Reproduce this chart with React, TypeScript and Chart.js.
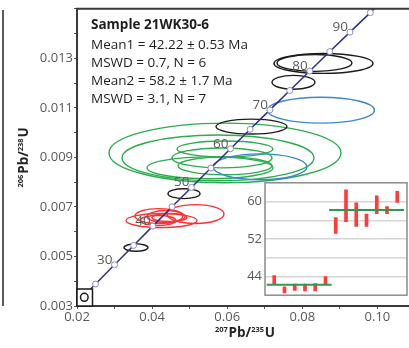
import React, { useEffect, useRef } from 'react';
import { Chart, registerables } from 'chart.js';

Chart.register(...registerables);

const FONT = '"Open Sans", sans-serif';

// ---- Concordia (ages in Ma, 207Pb/235U and 206Pb/238U ratios) ----
const concAges = [20, 25, 30, 35, 40, 45, 50, 55, 60, 65, 70, 75, 80, 85, 90, 95, 100];
const concX = [0.019892, 0.024927, 0.029986, 0.035071, 0.04018, 0.045315, 0.050475, 0.055661, 0.060872, 0.066109, 0.071371, 0.07666, 0.081975, 0.087316, 0.092683, 0.098107, 0.103498];
const concY = [0.0031073, 0.0038857, 0.0046646, 0.0054441, 0.0062243, 0.0070051, 0.0077864, 0.0085684, 0.009351, 0.0101341, 0.0109179, 0.0117023, 0.0124873, 0.0132729, 0.0140592, 0.014846, 0.0156334];
const labeledAges = [30, 40, 50, 60, 70, 80, 90];

// ---- Error ellipses: [207/235 centre, 206/238 centre, half-width x, half-width y] ----
const greenEllipses = [
  [0.0594, 0.009181, 0.03088, 0.001204],
  [0.05754, 0.00898, 0.02556, 0.000923],
  [0.05541, 0.008579, 0.01677, 0.000441],
  [0.0586, 0.00898, 0.01331, 0.000401],
  [0.0594, 0.008659, 0.01251, 0.000361],
  [0.0594, 0.009341, 0.01278, 0.000321],
];
const redEllipses = [
  [0.05155, 0.006712, 0.00759, 0.000381],
  [0.0425, 0.006451, 0.00945, 0.000281],
  [0.04183, 0.006632, 0.00639, 0.000301],
  [0.0437, 0.006612, 0.00506, 0.000241],
  [0.04157, 0.006451, 0.00479, 0.000201],
  [0.0446, 0.006572, 0.00466, 0.00016],
];
const blueEllipses = [
  [0.08496, 0.010906, 0.01424, 0.000522],
  [0.06872, 0.008619, 0.01251, 0.000522],
];
const blackEllipses = [
  [0.06646, 0.010244, 0.00945, 0.000301],
  [0.08563, 0.012793, 0.01318, 0.000401],
  [0.08323, 0.012813, 0.00998, 0.000341],
  [0.07764, 0.01203, 0.00572, 0.000281],
  [0.04849, 0.007535, 0.00426, 0.000201],
  [0.03571, 0.005358, 0.0032, 0.00015],
];

// ---- Annotation text ----
const sampleTitle = 'Sample 21WK30-6';
const statLines = ['Mean1 = 42.22 ± 0.53 Ma', 'MSWD = 0.7, N = 6', 'Mean2 = 58.2 ± 1.7 Ma', 'MSWD = 3.1, N = 7'];

// ---- Inset: weighted-mean age plot ----
const spotIndex = [1, 2, 3, 4, 5, 6, 7, 8, 9, 10, 11, 12, 13];
const spotLow = [42.3, 40.5, 41.0, 40.9, 40.9, 42.2, 53.2, 55.7, 54.7, 54.7, 57.4, 57.4, 59.8];
const spotHigh = [44.2, 41.8, 42.4, 42.4, 42.5, 44.0, 56.6, 62.5, 59.7, 57.3, 61.2, 58.9, 62.2];
const mean1 = 42.22;
const mean2 = 58.2;
const mean1Span = [0.27, 6.6];
const mean2Span = [6.35, 13.67];
const insetTickLabels = [44, 52, 60];

type Part = { t: string; sup?: boolean };
const xTitle: Part[] = [{ t: '207', sup: true }, { t: 'Pb/' }, { t: '235', sup: true }, { t: 'U' }];
const yTitle: Part[] = [{ t: '206', sup: true }, { t: 'Pb/' }, { t: '238', sup: true }, { t: 'U' }];

function drawIsoTitle(ctx: CanvasRenderingContext2D, parts: Part[], cx: number, cy: number, rotate: boolean) {
  const big = `bold 13.5px ${FONT}`;
  const small = `bold 7.5px ${FONT}`;
  ctx.save();
  ctx.translate(cx, cy);
  if (rotate) ctx.rotate(-Math.PI / 2);
  ctx.fillStyle = '#262626';
  ctx.textBaseline = 'alphabetic';
  ctx.textAlign = 'left';
  const widths = parts.map((p) => {
    ctx.font = p.sup ? small : big;
    return ctx.measureText(p.t).width + (p.sup ? 0.8 : 0);
  });
  const total = widths.reduce((a, b) => a + b, 0);
  let xx = -total / 2;
  const base = 4.8;
  parts.forEach((p, i) => {
    ctx.font = p.sup ? small : big;
    ctx.fillText(p.t, xx, p.sup ? base - 4.6 : base);
    xx += widths[i];
  });
  ctx.restore();
}

const mainDecor = {
  id: 'mainDecor',
  beforeDatasetsDraw(chart: any) {
    const { ctx, chartArea, scales } = chart;
    const xs = scales.x;
    const ys = scales.y;
    ctx.save();
    ctx.beginPath();
    ctx.rect(chartArea.left, chartArea.top, chartArea.right - chartArea.left, chartArea.bottom - chartArea.top);
    ctx.clip();
    const groups: [number[][], string][] = [
      [greenEllipses, '#2bae4e'],
      [redEllipses, '#ff3030'],
      [blueEllipses, '#3c87cf'],
      [blackEllipses, '#1c1c1c'],
    ];
    ctx.lineWidth = 1.4;
    for (const [items, color] of groups) {
      ctx.strokeStyle = color;
      for (const [cx, cy, sx, sy] of items) {
        const px = xs.getPixelForValue(cx);
        const py = ys.getPixelForValue(cy);
        const rx = Math.abs(xs.getPixelForValue(cx + sx) - px);
        const ry = Math.abs(ys.getPixelForValue(cy + sy) - py);
        ctx.beginPath();
        ctx.ellipse(px, py, rx, ry, 0, 0, Math.PI * 2);
        ctx.stroke();
      }
    }
    ctx.restore();
  },
  afterDatasetsDraw(chart: any) {
    const { ctx, chartArea, scales } = chart;
    const xs = scales.x;
    const ys = scales.y;
    ctx.save();
    // age labels on concordia
    ctx.font = `13.5px ${FONT}`;
    ctx.fillStyle = '#5c5c5c';
    ctx.textAlign = 'right';
    ctx.textBaseline = 'middle';
    labeledAges.forEach((a) => {
      const i = concAges.indexOf(a);
      const px = xs.getPixelForValue(concX[i]);
      const py = ys.getPixelForValue(concY[i]);
      ctx.fillText(String(a), px - 2, py - 5);
    });
    // sample text block
    ctx.textAlign = 'left';
    ctx.fillStyle = '#1e1e1e';
    ctx.font = `bold 13.5px ${FONT}`;
    ctx.fillText(sampleTitle, 91, 25);
    ctx.font = `13.5px ${FONT}`;
    const ys2 = [45, 63, 81, 99];
    statLines.forEach((s, i) => ctx.fillText(s, 91, ys2[i]));
    // top frame line
    ctx.strokeStyle = '#3a3a3a';
    ctx.lineWidth = 2;
    ctx.beginPath();
    ctx.moveTo(chartArea.left - 1, chartArea.top);
    ctx.lineTo(chartArea.right, chartArea.top);
    ctx.stroke();
    // small legend box with circle at origin corner
    ctx.fillStyle = '#ffffff';
    ctx.fillRect(chartArea.left, chartArea.bottom - 17, 15.5, 17);
    ctx.strokeStyle = '#1a1a1a';
    ctx.lineWidth = 1.5;
    ctx.strokeRect(chartArea.left, chartArea.bottom - 17, 15.5, 17);
    ctx.beginPath();
    ctx.ellipse(chartArea.left + 7.3, chartArea.bottom - 8.7, 3.8, 4, 0, 0, Math.PI * 2);
    ctx.stroke();
    // neighbouring panel edge
    ctx.strokeStyle = '#5a5a5a';
    ctx.lineWidth = 2;
    ctx.beginPath();
    ctx.moveTo(3, 10);
    ctx.lineTo(3, chartArea.bottom);
    ctx.stroke();
    ctx.restore();
  },
  afterDraw(chart: any) {
    const { ctx, chartArea } = chart;
    drawIsoTitle(ctx, xTitle, 245, 332, false);
    drawIsoTitle(ctx, yTitle, 23, (chartArea.top + chartArea.bottom) / 2, true);
  },
};

const insetFrame = {
  id: 'insetFrame',
  beforeDraw(chart: any) {
    const { ctx, chartArea } = chart;
    ctx.save();
    ctx.fillStyle = '#ffffff';
    ctx.fillRect(chartArea.left, chartArea.top, chartArea.right - chartArea.left, chartArea.bottom - chartArea.top);
    ctx.restore();
  },
  afterDraw(chart: any) {
    const { ctx, chartArea } = chart;
    ctx.save();
    ctx.strokeStyle = '#8c8c8c';
    ctx.lineWidth = 1.5;
    ctx.strokeRect(chartArea.left, chartArea.top, chartArea.right - chartArea.left, chartArea.bottom - chartArea.top);
    ctx.restore();
  },
};

export default function App() {
  const mainRef = useRef<HTMLCanvasElement>(null);
  const insetRef = useRef<HTMLCanvasElement>(null);

  useEffect(() => {
    Chart.defaults.font.family = FONT;
    const concData = concX.map((x, i) => ({ x, y: concY[i] }));
    const main = new Chart(mainRef.current as HTMLCanvasElement, {
      type: 'scatter',
      data: {
        datasets: [
          {
            data: concData,
            showLine: true,
            borderColor: '#2b2e8a',
            borderWidth: 1.5,
            tension: 0,
            clip: 0,
            pointRadius: concAges.map((a) => (a >= 25 && a <= 95 ? 3 : 0)),
            pointBackgroundColor: '#ffffff',
            pointBorderColor: '#8a8cc4',
            pointBorderWidth: 1,
          } as any,
        ],
      },
      options: {
        responsive: false,
        animation: false,
        devicePixelRatio: 1,
        events: [],
        layout: { padding: { top: 7, left: 0, right: 0, bottom: 0 } },
        plugins: { legend: { display: false }, tooltip: { enabled: false } },
        scales: {
          x: {
            type: 'linear',
            min: 0.02,
            max: 0.11,
            afterFit: (s: any) => {
              s.height = 42;
            },
            ticks: {
              stepSize: 0.01,
              autoSkip: false,
              maxRotation: 0,
              padding: 0,
              color: '#595959',
              font: { family: FONT, size: 13 },
              callback: (v: any) => (Math.round(Number(v) * 100) % 2 === 0 ? Number(v).toFixed(2) : ''),
            },
            grid: { drawOnChartArea: false, drawTicks: true, tickLength: 3, color: '#555555', lineWidth: 1 },
            border: { display: true, color: '#3a3a3a', width: 2 },
          },
          y: {
            type: 'linear',
            min: 0.003,
            max: 0.015,
            afterFit: (s: any) => {
              s.width = 77;
            },
            ticks: {
              stepSize: 0.001,
              autoSkip: false,
              padding: 1,
              color: '#595959',
              font: { family: FONT, size: 13 },
              callback: (v: any) => {
                const k = Math.round(Number(v) * 1000);
                return k % 2 === 1 && k <= 13 ? Number(v).toFixed(3) : '';
              },
            },
            grid: { drawOnChartArea: false, drawTicks: true, tickLength: 3, color: '#555555', lineWidth: 1 },
            border: { display: true, color: '#3a3a3a', width: 2 },
          },
        },
      } as any,
      plugins: [mainDecor],
    });

    const inset = new Chart(insetRef.current as HTMLCanvasElement, {
      type: 'bar',
      data: {
        datasets: [
          {
            type: 'line',
            data: [
              { x: mean1Span[0], y: mean1 },
              { x: mean1Span[1], y: mean1 },
            ],
            borderColor: '#2f9a4c',
            borderWidth: 2,
            pointRadius: 0,
          },
          {
            type: 'line',
            data: [
              { x: mean2Span[0], y: mean2 },
              { x: mean2Span[1], y: mean2 },
            ],
            borderColor: '#2f9a4c',
            borderWidth: 2,
            pointRadius: 0,
          },
          {
            type: 'bar',
            data: spotIndex.map((i, k) => ({ x: i, y: [spotLow[k], spotHigh[k]] })),
            backgroundColor: '#ff3b3b',
            borderWidth: 0,
            barThickness: 3,
          },
        ] as any,
      },
      options: {
        responsive: false,
        animation: false,
        devicePixelRatio: 1,
        events: [],
        layout: { padding: { top: 8, right: 6, bottom: 6, left: 0 } },
        plugins: { legend: { display: false }, tooltip: { enabled: false } },
        scales: {
          x: { type: 'linear', min: 0.1, max: 13.95, display: false, offset: false },
          y: {
            min: 40,
            max: 64,
            afterFit: (s: any) => {
              s.width = 27;
            },
            ticks: {
              stepSize: 4,
              padding: 3,
              color: '#595959',
              font: { family: FONT, size: 13 },
              callback: (v: any) => (insetTickLabels.includes(Number(v)) ? String(v) : ''),
            },
            grid: {
              drawTicks: false,
              lineWidth: 1.5,
              color: (c: any) => (c.tick && (c.tick.value === 40 || c.tick.value === 64) ? 'rgba(0,0,0,0)' : '#d6d6d6'),
            },
            border: { display: false },
          },
        },
      } as any,
      plugins: [insetFrame],
    });

    return () => {
      main.destroy();
      inset.destroy();
    };
  }, []);

  return (
    <div
      style={{
        position: 'fixed',
        left: 0,
        top: 0,
        width: 409,
        height: 348,
        overflow: 'hidden',
        background: '#ffffff',
      }}
    >
      <canvas ref={mainRef} width={415} height={348} style={{ position: 'absolute', left: 0, top: 0, width: 415, height: 348 }} />
      <canvas ref={insetRef} width={175} height={134} style={{ position: 'absolute', left: 238, top: 172, width: 175, height: 134 }} />
    </div>
  );
}
